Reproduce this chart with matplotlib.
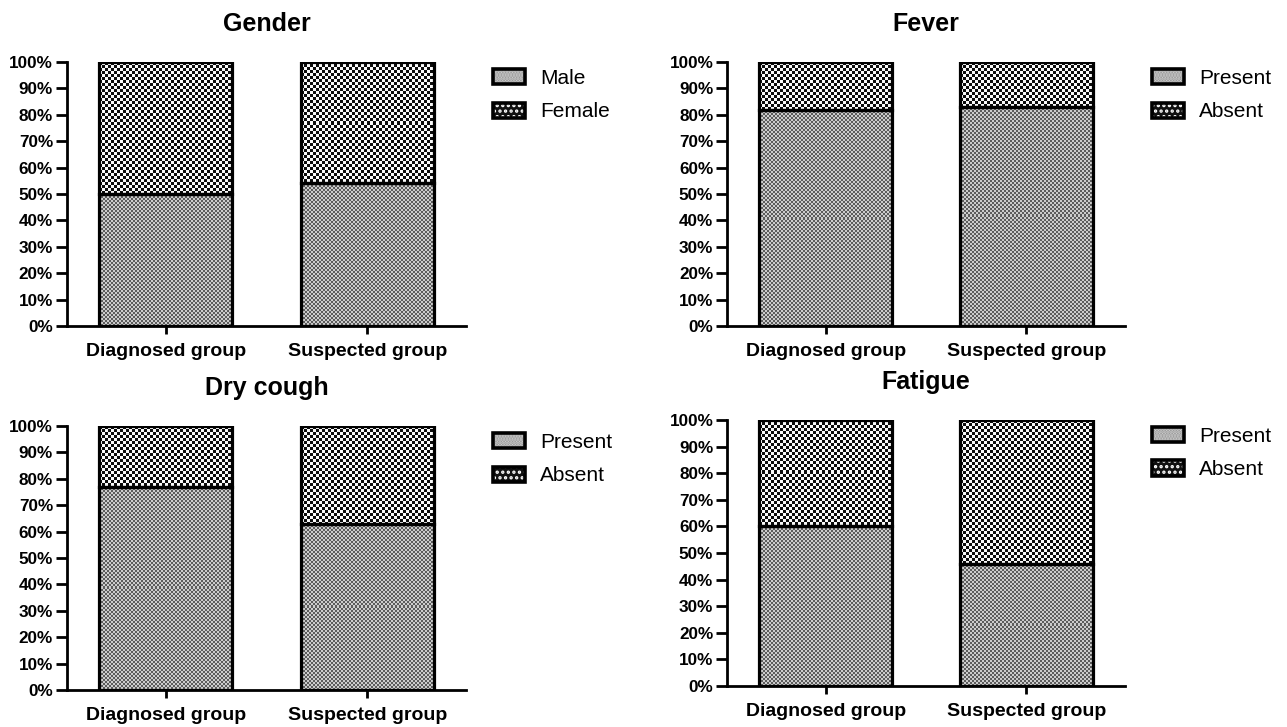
import numpy as np
import matplotlib.pyplot as plt
from matplotlib.legend_handler import HandlerBase
from matplotlib.patches import Patch, Rectangle
from matplotlib.ticker import PercentFormatter

plt.rcParams["font.family"] = ["Liberation Sans", "DejaVu Sans"]
plt.rcParams["hatch.linewidth"] = 1.6

groups = ["Diagnosed group", "Suspected group"]
titles = ["Gender", "Fever", "Dry cough", "Fatigue"]
legend_labels = [["Male", "Female"], ["Present", "Absent"],
                 ["Present", "Absent"], ["Present", "Absent"]]
# share of the first category (Male / Present), in %
lower_vals = [[50, 54], [82, 83], [77, 63], [60, 46]]


def texture(h, w, cell, dark, light):
    # checkerboard fill, cell size in pixels
    yy, xx = np.indices((h, w))
    return np.where(((yy // cell) + (xx // cell)) % 2 == 0, dark, light)


def fill_bars(ax, bars, cell, dark, light):
    for r in bars:
        ext = r.get_window_extent()
        h = max(int(round(ext.height)), 1)
        w = max(int(round(ext.width)), 1)
        x0, y0 = r.get_x(), r.get_y()
        ax.imshow(texture(h, w, cell, dark, light), cmap="gray", vmin=0, vmax=1,
                  extent=(x0, x0 + r.get_width(), y0, y0 + r.get_height()),
                  interpolation="nearest", aspect="auto", zorder=1)


class TwoLayer(HandlerBase):
    def __init__(self, face, hatch, hcolor):
        super().__init__()
        self.face, self.hatch, self.hcolor = face, hatch, hcolor

    def create_artists(self, legend, orig_handle, xdescent, ydescent,
                       width, height, fontsize, trans):
        r1 = Rectangle((-xdescent, -ydescent), width, height, facecolor=self.face,
                       hatch=self.hatch, edgecolor=self.hcolor, lw=0, transform=trans)
        r2 = Rectangle((-xdescent, -ydescent), width, height, fill=False,
                       edgecolor="black", lw=2.6, transform=trans)
        return [r1, r2]


fig = plt.figure(figsize=(12.87, 7.27), dpi=100)

# axes boxes [left, bottom, width, height]
boxes = [
    [0.052, 0.5516, 0.310, 0.3631],
    [0.565, 0.5516, 0.309, 0.3631],
    [0.052, 0.0509, 0.310, 0.3631],
    [0.565, 0.0564, 0.309, 0.3659],
]

for i in range(4):
    ax = fig.add_axes(boxes[i])
    ax.set_xlim(-0.49, 1.49)
    ax.set_ylim(0, 100)
    low = lower_vals[i]
    up = [100 - v for v in low]
    x = [0, 1]
    b_low = ax.bar(x, low, width=0.66, facecolor="none", edgecolor="black",
                   linewidth=2.3, zorder=3)
    b_up = ax.bar(x, up, bottom=low, width=0.66, facecolor="none",
                  edgecolor="black", linewidth=2.3, zorder=3)
    fill_bars(ax, b_low, 2, 0.36, 0.8)
    fill_bars(ax, b_up, 3, 0.05, 0.98)

    ax.set_xlim(-0.49, 1.49)
    ax.set_ylim(0, 100)
    ax.set_yticks(range(0, 101, 10))
    ax.yaxis.set_major_formatter(PercentFormatter(decimals=0))
    ax.set_xticks(x)
    ax.set_xticklabels(groups)
    for lab in ax.get_xticklabels() + ax.get_yticklabels():
        lab.set_fontweight("bold")
    ax.tick_params(axis="y", labelsize=12.3, width=2, length=8, pad=2)
    ax.tick_params(axis="x", labelsize=14, width=2, length=6, pad=6)
    for s in ["top", "right"]:
        ax.spines[s].set_visible(False)
    for s in ["left", "bottom"]:
        ax.spines[s].set_linewidth(2)
    ax.set_title(titles[i], fontsize=18, fontweight="bold", pad=22)

    h1, h2 = Patch(), Patch()
    ax.legend([h1, h2], legend_labels[i], loc="upper left",
              bbox_to_anchor=(1.022, 1.045), frameon=False, fontsize=15,
              handlelength=1.5, handleheight=0.75, labelspacing=0.7,
              handletextpad=0.75,
              handler_map={h1: TwoLayer("#8c8c8c", "......", "#d0d0d0"),
                           h2: TwoLayer("#111111", "...", "white")})

fig.savefig("out.png", dpi=100)
